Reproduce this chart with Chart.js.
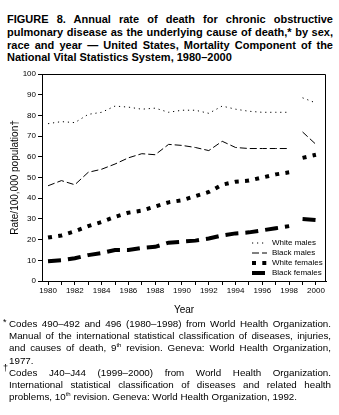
<!DOCTYPE html>
<html>
<head>
<meta charset="utf-8">
<script src="https://cdn.jsdelivr.net/npm/chart.js@4"></script>
<style>
  body { margin: 0; width: 339px; height: 415px; position: relative; overflow: hidden; background: #fff;
         font-family: "Liberation Sans", Arial, sans-serif; color: #000; }
  #chart { position: absolute; left: 0; top: 0; }
  .title { position: absolute; left: 7px; top: 13px; width: 326px; font-weight: bold; font-size: 11px; line-height: 12.8px; }
  .notes { position: absolute; left: 0; top: 318px; width: 339px; font-size: 9.8px; line-height: 12.2px; }
  .ln { text-align: justify; text-align-last: justify; }
  .last { text-align: left; text-align-last: left; }
  .in { padding-left: 9px; width: 322px; position: relative; }
  .mk { position: absolute; left: 3px; top: -2px; font-size: 9px; }
  sup { font-size: 6px; line-height: 0; vertical-align: 4px; }
</style>
</head>
<body>
<div class="title">
  <div class="ln">FIGURE 8. Annual rate of death for chronic obstructive</div>
  <div class="ln">pulmonary disease as the underlying cause of death,* by sex,</div>
  <div class="ln">race and year — United States, Mortality Component of the</div>
  <div class="ln last">National Vital Statistics System, 1980–2000</div>
</div>
<canvas id="chart" width="339" height="415"></canvas>
<div class="notes">
  <div class="ln in"><span class="mk">*</span>Codes 490–492 and 496 (1980–1998) from World Health Organization.</div>
  <div class="ln in">Manual of the international statistical classification of diseases, injuries,</div>
  <div class="ln in">and causes of death, 9<sup>th</sup> revision. Geneva: World Health Organization,</div>
  <div class="ln in last">1977.</div>
  <div class="ln in"><span class="mk" style="top:-5px">†</span>Codes J40–J44 (1999–2000) from World Health Organization.</div>
  <div class="ln in">International statistical classification of diseases and related health</div>
  <div class="ln in last">problems, 10<sup>th</sup> revision. Geneva: World Health Organization, 1992.</div>
</div>
<script>
// rates per 100,000
const years = [1980, 1981, 1982, 1983, 1984, 1985, 1986, 1987, 1988, 1989, 1990,
  1991, 1992, 1993, 1994, 1995, 1996, 1997, 1998, 1999, 2000];
const whiteMales = [76, 77, 76.5, 80.5, 81.5, 84.5, 84, 83, 83.5, 81.5, 82.5,
  82.5, 81, 84.5, 83, 82, 81.5, 81.5, 81.5, 88.5, 86];
const blackMales = [46, 48.5, 46.5, 52.5, 54, 56.5, 59.5, 61.5, 61, 66, 65.5,
  64.5, 63, 67.5, 64.5, 64, 64, 64, 64, 72, 66];
const whiteFemales = [21, 22, 24, 26.5, 28.5, 31, 33, 34, 36, 38, 39,
  41, 43, 46.5, 48, 48.5, 50, 51.5, 52.5, 59.5, 61];
const blackFemales = [9.5, 10, 11, 12.5, 13.5, 15, 15, 16, 16.5, 18.5, 19,
  19.5, 20.5, 22, 23, 23.5, 24.5, 25.5, 26.5, 30, 29.5];
const seriesLabels = ["White males", "Black males", "White females", "Black females"];
const yTicks = [0, 10, 20, 30, 40, 50, 60, 70, 80, 90, 100];

const FONT = '"Liberation Sans", Arial, sans-serif';
const breakYear = 1998; // ICD-9 -> ICD-10, lines not joined

function makeSet(label, values, width, dash) {
  return {
    label: label,
    data: years.map((y, i) => ({ x: y, y: values[i] })),
    borderColor: "#000",
    borderWidth: width,
    borderDash: dash,
    borderCapStyle: "butt",
    pointRadius: 0,
    tension: 0,
    fill: false,
    segment: {
      borderColor: (c) => (c.p0.parsed.x === breakYear ? "rgba(0,0,0,0)" : undefined),
    },
  };
}

// frame on top/right + legend in lower right
const framePlugin = {
  id: "frame",
  afterDraw(chart) {
    const { ctx, chartArea: a } = chart;
    ctx.save();
    ctx.strokeStyle = "#000";
    ctx.lineWidth = 1;
    ctx.beginPath();
    ctx.moveTo(a.left, a.top + 0.5);
    ctx.lineTo(a.right - 0.5, a.top + 0.5);
    ctx.lineTo(a.right - 0.5, a.bottom);
    ctx.stroke();

    ctx.font = "8px " + FONT;
    ctx.textBaseline = "middle";
    ctx.fillStyle = "#000";
    chart.data.datasets.forEach((ds, i) => {
      const y = a.bottom - 38 + i * 10;
      ctx.lineWidth = ds.borderWidth;
      ctx.setLineDash(ds.borderDash);
      ctx.beginPath();
      ctx.moveTo(a.right - 74, y);
      ctx.lineTo(a.right - 59, y);
      ctx.stroke();
      ctx.setLineDash([]);
      ctx.fillText(ds.label, a.right - 54, y);
    });
    ctx.restore();
  },
};

const ctx = document.getElementById("chart").getContext("2d");

new Chart(ctx, {
  type: "line",
  data: {
    datasets: [
      makeSet(seriesLabels[0], whiteMales, 1, [1.2, 3.8]),
      makeSet(seriesLabels[1], blackMales, 1, [7, 3]),
      makeSet(seriesLabels[2], whiteFemales, 4, [4, 6.3]),
      makeSet(seriesLabels[3], blackFemales, 4, [13, 7]),
    ],
  },
  options: {
    responsive: false,
    animation: false,
    layout: { padding: { left: 0, top: 74, right: 13, bottom: 99 } },
    plugins: { legend: { display: false }, tooltip: { enabled: false } },
    scales: {
      x: {
        type: "linear",
        min: 1979.55,
        max: 2000.75,
        afterBuildTicks: (s) => { s.ticks = years.map((v) => ({ value: v })); },
        afterFit: (s) => { s.height = 35; },
        grid: { display: true, drawOnChartArea: false, drawTicks: true, tickLength: 4, color: "#000" },
        border: { display: true, color: "#000", width: 1 },
        ticks: {
          color: "#000",
          font: { family: FONT, size: 8 },
          padding: 1,
          maxRotation: 0,
          autoSkip: false,
          callback: (v) => (v % 2 === 0 ? String(v) : ""),
        },
        title: { display: true, text: "Year", color: "#000", font: { family: FONT, size: 10 }, padding: 0 },
      },
      y: {
        min: 0,
        max: 100,
        afterBuildTicks: (s) => { s.ticks = yTicks.map((v) => ({ value: v })); },
        afterFit: (s) => { s.width = 42; },
        grid: { display: true, drawOnChartArea: false, drawTicks: true, tickLength: 4, color: "#000" },
        border: { display: true, color: "#000", width: 1 },
        ticks: { color: "#000", font: { family: FONT, size: 8 }, padding: 2 },
        title: { display: true, text: "Rate/100,000 population†", color: "#000", font: { family: FONT, size: 10 }, padding: { top: 9, bottom: 0 } },
      },
    },
  },
  plugins: [framePlugin],
});
</script>
</body>
</html>
